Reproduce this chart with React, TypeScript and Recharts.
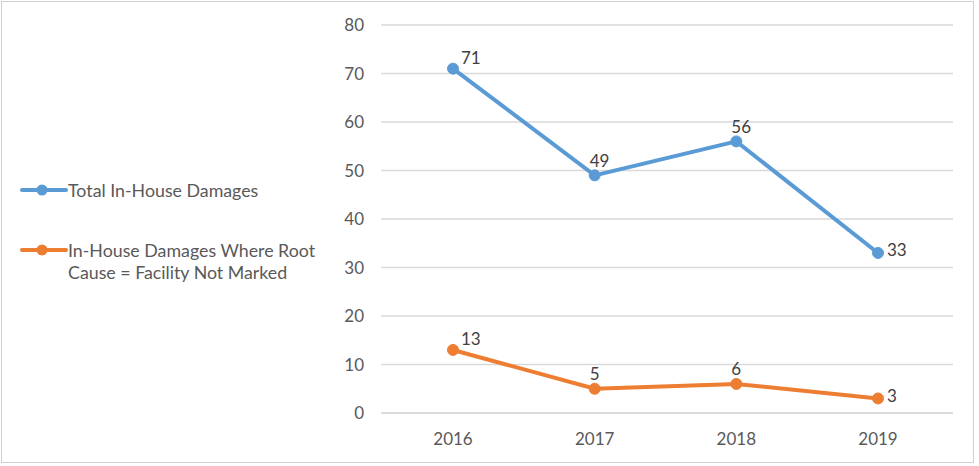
import { LineChart, Line, XAxis, YAxis, CartesianGrid, Legend, LabelList } from "recharts"

// Values
const years = ["2016", "2017", "2018", "2019"]
const totalDamages = [71, 49, 56, 33]
const notMarkedDamages = [13, 5, 6, 3]
const yTicks = [0, 10, 20, 30, 40, 50, 60, 70, 80]

const seriesNames = {
  total: "Total In-House Damages",
  notMarked: ["In-House Damages Where Root", "Cause = Facility Not Marked"],
}

const colors = {
  total: "#5B9BD5",
  notMarked: "#ED7D31",
}

const data = years.map((year, i) => ({
  year,
  total: totalDamages[i],
  notMarked: notMarkedDamages[i],
}))

const font = "Lato, 'Noto Sans', sans-serif"
const textColor = "#595959"

function LegendItem({ color, lines }: { color: string; lines: string[] }) {
  return (
    <div style={{ display: "flex", alignItems: "flex-start", marginBottom: 38 }}>
      <svg width={48} height={22} style={{ flexShrink: 0 }}>
        <line x1={2} y1={11} x2={46} y2={11} stroke={color} strokeWidth={4} strokeLinecap="round" />
        <circle cx={22} cy={11} r={5.5} fill={color} />
      </svg>
      <div style={{ lineHeight: "22px" }}>
        {lines.map((l) => (
          <div key={l}>{l}</div>
        ))}
      </div>
    </div>
  )
}

function ChartLegend() {
  return (
    <div style={{ fontFamily: font, fontSize: 17.8, color: textColor }}>
      <LegendItem color={colors.total} lines={[seriesNames.total]} />
      <LegendItem color={colors.notMarked} lines={seriesNames.notMarked} />
    </div>
  )
}

// data labels: above for the first points, to the right for the last one
const renderLabel = (props: any) => {
  const { x, y, value, index } = props
  const last = index === years.length - 1
  const dx = last ? 9 : index === 0 ? 8 : -5
  const dy = last ? -3 : index === 0 ? -11 : -15
  return (
    <text
      x={x + dx}
      y={y + dy}
      dominantBaseline="central"
      textAnchor="start"
      fontFamily={font}
      fontSize={17}
      fill="#404040"
    >
      {value}
    </text>
  )
}

export default function App() {
  return (
    <div
      style={{
        position: "absolute",
        left: 0,
        top: 0,
        width: 979,
        height: 466,
        background: "#fff",
      }}
    >
      <div
        style={{
          position: "absolute",
          left: 1,
          top: 1,
          width: 971,
          height: 460,
          border: "1px solid #d0d0d0",
        }}
      />
      <LineChart
        width={979}
        height={466}
        data={data}
        margin={{ top: 25, right: 26, bottom: 23, left: 0 }}
        style={{ position: "absolute", left: 0, top: 0 }}
      >
        <CartesianGrid vertical={false} stroke="#d9d9d9" strokeWidth={1.5} />
        <XAxis
          dataKey="year"
          padding={{ left: 72, right: 75 }}
          axisLine={{ stroke: "#d9d9d9", strokeWidth: 1.5 }}
          tickLine={false}
          tickMargin={14}
          tick={{ fontFamily: font, fontSize: 17, fill: textColor }}
        />
        <YAxis
          width={81}
          domain={[0, 80]}
          ticks={yTicks}
          axisLine={false}
          tickLine={false}
          tickMargin={11}
          tick={{ fontFamily: font, fontSize: 17, fill: textColor }}
        />
        <Legend
          layout="vertical"
          align="left"
          verticalAlign="middle"
          content={<ChartLegend />}
          wrapperStyle={{ left: 20, top: 179, width: 300 }}
        />
        <Line
          dataKey="total"
          stroke={colors.total}
          strokeWidth={4}
          dot={{ r: 5.5, fill: colors.total, stroke: colors.total, strokeWidth: 1 }}
          isAnimationActive={false}
        >
          <LabelList dataKey="total" content={renderLabel} />
        </Line>
        <Line
          dataKey="notMarked"
          stroke={colors.notMarked}
          strokeWidth={4}
          dot={{ r: 5.5, fill: colors.notMarked, stroke: colors.notMarked, strokeWidth: 1 }}
          isAnimationActive={false}
        >
          <LabelList dataKey="notMarked" content={renderLabel} />
        </Line>
      </LineChart>
    </div>
  )
}
